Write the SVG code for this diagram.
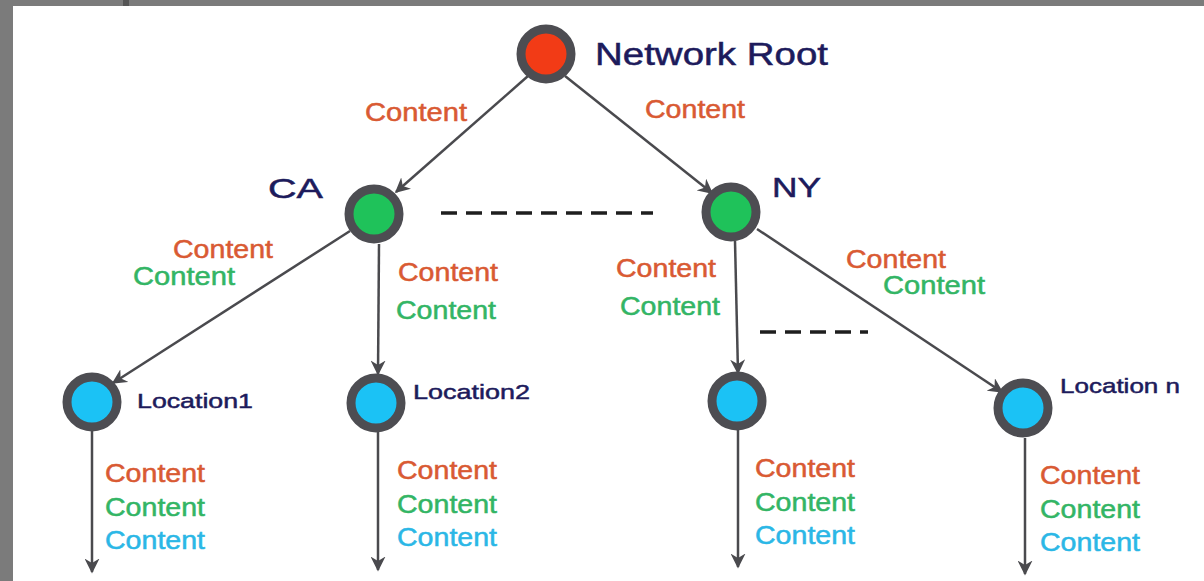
<svg xmlns="http://www.w3.org/2000/svg" width="1204" height="581" viewBox="0 0 1204 581">
<defs>
<marker id="ah" viewBox="0 0 10 10" refX="9" refY="5" markerWidth="6" markerHeight="6" orient="auto" markerUnits="strokeWidth">
<path d="M0,0 L10,5 L0,10 L3,5 Z" fill="#4a4a4e"/>
</marker>
<style>
.edge{stroke:#4a4a4e;stroke-width:2.5;fill:none;marker-end:url(#ah)}
.dash{stroke:#1e1e1e;stroke-width:3.5;fill:none;stroke-dasharray:16 9}
.ring{stroke:#4d4d52;stroke-width:9}
.t{font-family:"Liberation Sans",Arial,sans-serif;stroke-width:0.5}
.lbl{font-size:25px}
.o{fill:#d95a33;stroke:#d95a33}
.g{fill:#33b565;stroke:#33b565}
.c{fill:#2bb7e6;stroke:#2bb7e6}
.n{fill:#1d1b5c;stroke:#1d1b5c}
</style>
</defs>
<rect width="1204" height="581" fill="#ffffff"/>
<rect x="0" y="0" width="1204" height="6" fill="#7b7b7b"/>
<rect x="0" y="0" width="13" height="581" fill="#7b7b7b"/>
<rect x="123" y="0" width="6" height="6" fill="#555"/>

<g id="connectors">
<line class="edge" x1="528" y1="76" x2="396" y2="192"/>
<line class="edge" x1="565" y1="76" x2="712" y2="193"/>
<line class="edge" x1="350" y1="231" x2="113" y2="383"/>
<line class="edge" x1="379" y1="244" x2="378" y2="374"/>
<line class="edge" x1="735" y1="241" x2="738" y2="373"/>
<line class="edge" x1="757" y1="229" x2="1002" y2="392"/>
<line class="edge" x1="92" y1="431" x2="92" y2="572"/>
<line class="edge" x1="378" y1="432" x2="378" y2="570"/>
<line class="edge" x1="738" y1="430" x2="738" y2="567"/>
<line class="edge" x1="1025" y1="438" x2="1025" y2="574"/>
<line class="dash" x1="441" y1="213" x2="653" y2="213"/>
<line class="dash" x1="760" y1="332" x2="868" y2="332"/>
</g>

<g id="edge-labels" class="t lbl">
<text class="o" x="365" y="121" textLength="102" lengthAdjust="spacingAndGlyphs">Content</text>
<text class="o" x="645" y="118" textLength="100" lengthAdjust="spacingAndGlyphs">Content</text>
<text class="o" x="173" y="258" textLength="100" lengthAdjust="spacingAndGlyphs">Content</text>
<text class="g" x="133" y="285" textLength="102" lengthAdjust="spacingAndGlyphs">Content</text>
<text class="o" x="398" y="281" textLength="100" lengthAdjust="spacingAndGlyphs">Content</text>
<text class="g" x="396" y="319" textLength="100" lengthAdjust="spacingAndGlyphs">Content</text>
<text class="o" x="616" y="277" textLength="100" lengthAdjust="spacingAndGlyphs">Content</text>
<text class="g" x="620" y="315" textLength="100" lengthAdjust="spacingAndGlyphs">Content</text>
<text class="o" x="846" y="268" textLength="100" lengthAdjust="spacingAndGlyphs">Content</text>
<text class="g" x="883" y="294" textLength="102" lengthAdjust="spacingAndGlyphs">Content</text>
</g>

<g id="root">
<circle class="ring" cx="546" cy="54" r="25" fill="#f23b16"/>
<text class="t n" x="595" y="65" font-size="31" textLength="233" lengthAdjust="spacingAndGlyphs">Network Root</text>
</g>
<g id="ca">
<circle class="ring" cx="374" cy="214" r="25" fill="#1fc25a"/>
<text class="t n" x="268" y="198" font-size="28" textLength="55" lengthAdjust="spacingAndGlyphs">CA</text>
</g>
<g id="ny">
<circle class="ring" cx="731" cy="212" r="25" fill="#1fc25a"/>
<text class="t n" x="772" y="197" font-size="28" textLength="49" lengthAdjust="spacingAndGlyphs">NY</text>
</g>
<g id="location1">
<circle class="ring" cx="92" cy="402" r="25" fill="#1bc2f5"/>
<text class="t n" x="137" y="408" font-size="21" textLength="116" lengthAdjust="spacingAndGlyphs">Location1</text>
<text class="t lbl o" x="105" y="482" textLength="100" lengthAdjust="spacingAndGlyphs">Content</text>
<text class="t lbl g" x="105" y="516" textLength="100" lengthAdjust="spacingAndGlyphs">Content</text>
<text class="t lbl c" x="105" y="549" textLength="100" lengthAdjust="spacingAndGlyphs">Content</text>
</g>
<g id="location2">
<circle class="ring" cx="376" cy="403" r="25" fill="#1bc2f5"/>
<text class="t n" x="413" y="399" font-size="21" textLength="117" lengthAdjust="spacingAndGlyphs">Location2</text>
<text class="t lbl o" x="397" y="479" textLength="100" lengthAdjust="spacingAndGlyphs">Content</text>
<text class="t lbl g" x="397" y="513" textLength="100" lengthAdjust="spacingAndGlyphs">Content</text>
<text class="t lbl c" x="397" y="546" textLength="100" lengthAdjust="spacingAndGlyphs">Content</text>
</g>
<g id="ny-location">
<circle class="ring" cx="737" cy="401" r="25" fill="#1bc2f5"/>
<text class="t lbl o" x="755" y="477" textLength="100" lengthAdjust="spacingAndGlyphs">Content</text>
<text class="t lbl g" x="755" y="511" textLength="100" lengthAdjust="spacingAndGlyphs">Content</text>
<text class="t lbl c" x="755" y="544" textLength="100" lengthAdjust="spacingAndGlyphs">Content</text>
</g>
<g id="location-n">
<circle class="ring" cx="1023" cy="408" r="25" fill="#1bc2f5"/>
<text class="t n" x="1060" y="393" font-size="21" textLength="120" lengthAdjust="spacingAndGlyphs">Location n</text>
<text class="t lbl o" x="1040" y="484" textLength="100" lengthAdjust="spacingAndGlyphs">Content</text>
<text class="t lbl g" x="1040" y="518" textLength="100" lengthAdjust="spacingAndGlyphs">Content</text>
<text class="t lbl c" x="1040" y="551" textLength="100" lengthAdjust="spacingAndGlyphs">Content</text>
</g>
</svg>
